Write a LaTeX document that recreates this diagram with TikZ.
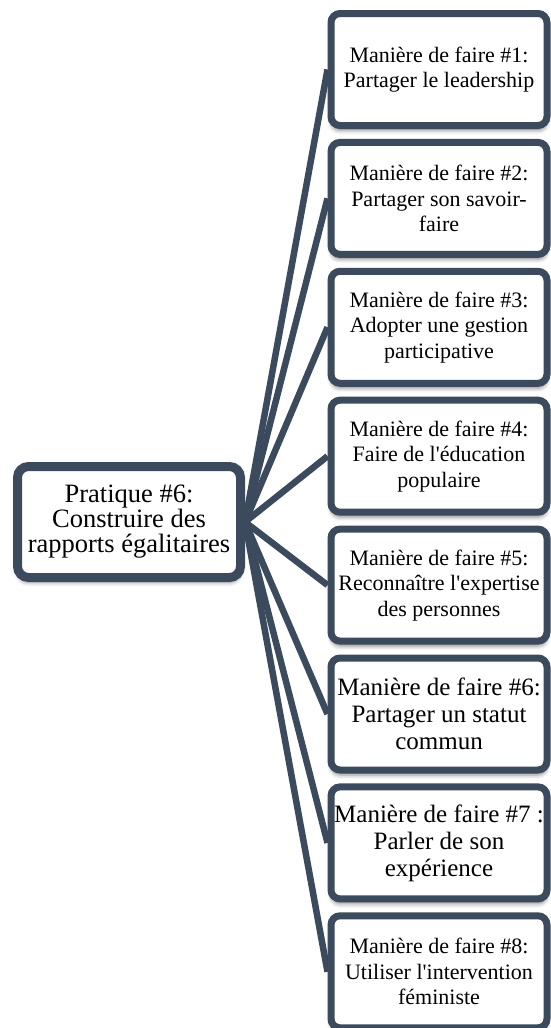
\documentclass[tikz,border=0pt]{standalone}
\usepackage{fontspec}
\setmainfont{Liberation Serif}[Ligatures=TeXOff]
\usetikzlibrary{backgrounds,shadows.blur}
\definecolor{slate}{RGB}{60,74,94}
\begin{document}
\begin{tikzpicture}[x=1pt,y=-1pt,
  softshadow/.style={blur shadow={shadow xshift=0pt,shadow yshift=-5pt,
      shadow blur radius=4pt,shadow opacity=45}},
  waybox/.style={draw=slate,line width=7pt,fill=white,rounded corners=9pt,
      minimum width=216pt,minimum height=112pt,inner sep=0pt,align=center,
      font=\fontsize{22}{25.5}\selectfont,softshadow},
  waybig/.style={waybox,font=\fontsize{25}{27}\selectfont},
  hub/.style={draw=slate,line width=9pt,fill=white,rounded corners=11pt,
      minimum width=223pt,minimum height=111pt,inner sep=0pt,align=center,
      font=\fontsize{26.5}{25}\selectfont,softshadow},
  link/.style={draw=slate,line width=6.5pt}]
\useasboundingbox (0,0) rectangle (551,1028);

% central practice
\node[hub] (hub) at (129,522) {Pratique \#6:\\Construire des\\rapports égalitaires};

% the eight ways of doing it
\node[waybox] (b1) at (439,69.5)  {Manière de faire \#1:\\Partager le leadership};
\node[waybox] (b2) at (439,198.4) {Manière de faire \#2:\\Partager son savoir-\\faire};
\node[waybox] (b3) at (439,327.3) {Manière de faire \#3:\\Adopter une gestion\\participative};
\node[waybox] (b4) at (439,456.2) {Manière de faire \#4:\\Faire de l'éducation\\populaire};
\node[waybox] (b5) at (439,585.1) {Manière de faire \#5:\\Reconnaître l'expertise\\des personnes};
\node[waybig] (b6) at (439,714)   {Manière de faire \#6:\\Partager un statut\\commun};
\node[waybig] (b7) at (439,842.9) {Manière de faire \#7 :\\Parler de son\\expérience};
\node[waybox] (b8) at (439,971.8) {Manière de faire \#8:\\Utiliser l'intervention\\féministe};

% connectors fanning out from the practice
\begin{scope}[on background layer]
  \foreach \i in {1,...,8}
    \draw[link] (hub.east) -- (b\i.west);
\end{scope}
\end{tikzpicture}
\end{document}
